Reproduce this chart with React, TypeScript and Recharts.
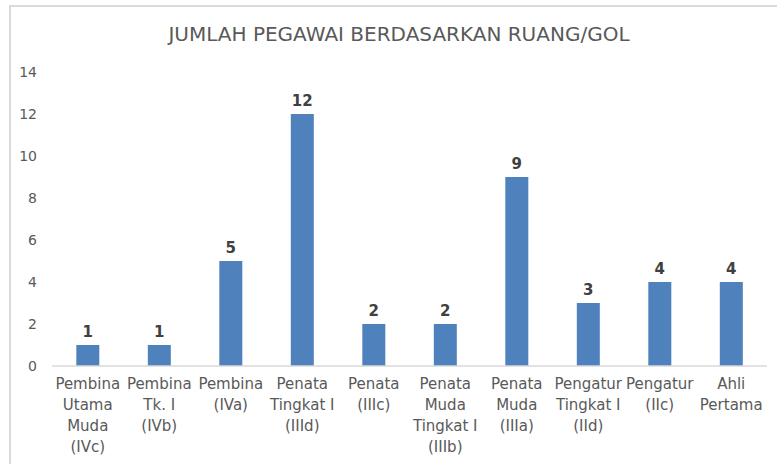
import { Bar, BarChart, LabelList, XAxis, YAxis } from "recharts";

const CATEGORIES = [
  "Pembina\nUtama\nMuda\n(IVc)",
  "Pembina\nTk. I\n(IVb)",
  "Pembina\n(IVa)",
  "Penata\nTingkat I\n(IIId)",
  "Penata\n(IIIc)",
  "Penata\nMuda\nTingkat I\n(IIIb)",
  "Penata\nMuda\n(IIIa)",
  "Pengatur\nTingkat I\n(IId)",
  "Pengatur\n(IIc)",
  "Ahli\nPertama",
];

const JUMLAH = [1, 1, 5, 12, 2, 2, 9, 3, 4, 4];

const Y_TICKS = [0, 2, 4, 6, 8, 10, 12, 14];

const TITLE = "JUMLAH PEGAWAI BERDASARKAN RUANG/GOL";

const W = 777;
const H = 464;
const FONT = "'DejaVu Sans', sans-serif";

const data = CATEGORIES.map((name, i) => ({ name, value: JUMLAH[i] }));

function CategoryTick(props: any) {
  const { x, y, payload } = props;
  const lines = String(payload.value).split("\n");
  return (
    <text x={x} y={y} textAnchor="middle" fill="#595959" fontSize={15} fontFamily={FONT}>
      {lines.map((ln, i) => (
        <tspan key={i} x={x} dy={i === 0 ? 15 : 21}>
          {ln}
        </tspan>
      ))}
    </text>
  );
}

export default function App() {
  return (
    <div style={{ position: "absolute", left: 0, top: 0, width: W, height: H, background: "#fff" }}>
      <div
        style={{
          position: "absolute",
          left: 9,
          top: 5,
          width: W,
          height: H,
          borderLeft: "2px solid #d9d9d9",
          borderTop: "2px solid #d9d9d9",
        }}
      />
      <div
        style={{
          position: "absolute",
          left: 0,
          top: 22,
          width: 798,
          textAlign: "center",
          fontFamily: FONT,
          fontSize: 20,
          color: "#595959",
        }}
      >
        {TITLE}
      </div>
      <div style={{ position: "absolute", left: 0, top: 0 }}>
        <BarChart width={W} height={H} data={data} margin={{ top: 72, right: 10, left: 0, bottom: 0 }} barCategoryGap="34%">
          <XAxis
            dataKey="name"
            interval={0}
            tick={<CategoryTick />}
            tickLine={false}
            axisLine={{ stroke: "#d9d9d9", strokeWidth: 1.5 }}
            height={98}
          />
          <YAxis
            width={52}
            domain={[0, 14]}
            ticks={Y_TICKS}
            axisLine={false}
            tickLine={false}
            tickSize={0}
            tickMargin={15}
            tick={{ fill: "#595959", fontSize: 14, fontFamily: FONT }}
          />
          <Bar dataKey="value" fill="#4f81bd" isAnimationActive={false}>
            <LabelList
              dataKey="value"
              position="top"
              offset={8}
              fill="#404040"
              fontSize={15}
              fontWeight="bold"
              fontFamily={FONT}
            />
          </Bar>
        </BarChart>
      </div>
    </div>
  );
}
